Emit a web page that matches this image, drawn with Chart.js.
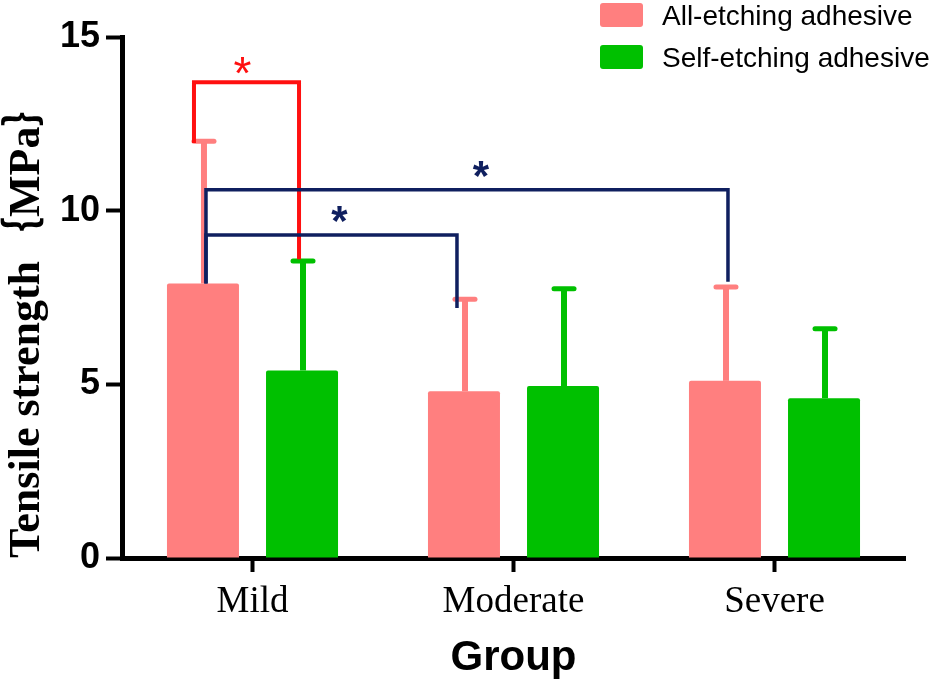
<!DOCTYPE html>
<html>
<head>
<meta charset="utf-8">
<script src="https://cdn.jsdelivr.net/npm/chart.js@4.4.1/dist/chart.umd.min.js"></script>
<style>
html, body { margin: 0; padding: 0; background: #fff; }
#wrap { width: 944px; height: 684px; }
</style>
</head>
<body>
<div id="wrap"><canvas id="canvas_tensile" width="944" height="684"></canvas></div>
<script>
var groups = ["Mild", "Moderate", "Severe"];
var series_names = ["All-etching adhesive", "Self-etching adhesive"];
var all_etching_mean = [7.9, 4.8, 5.1];
var all_etching_sd = [4.1, 2.65, 2.7];
var self_etching_mean = [5.4, 4.95, 4.6];
var self_etching_sd = [3.15, 2.8, 2.0];
var y_ticks = [0, 5, 10, 15];

// significance brackets: [group index, series index] -> [group index, series index]
var sig_from = [[0, 0], [0, 0], [0, 0]];
var sig_to = [[0, 1], [1, 0], [2, 0]];
var sig_level = [13.7, 9.3, 10.6];
var sig_leg_end = [[11.95, 8.6], [7.9, 7.2], [7.9, 7.95]];
var sig_label = ["*", "*", "*"];

var pink = "#ff7f7f";
var green = "#00c000";
var sig_colors = ["#ff1010", "#0f1f5f", "#0f1f5f"];
var sig_shift = [[-9, -3], [3, -7], [3, 3]];
var star_shift = [-4, 8, 14];

var errorBarPlugin = {
    id: "errorBars",
    afterDatasetsDraw: function(chart) {
        var ctx = chart.ctx;
        var y = chart.scales.y;
        chart.data.datasets.forEach(function(ds, i) {
            var meta = chart.getDatasetMeta(i);
            meta.data.forEach(function(bar, j) {
                var top = y.getPixelForValue(ds.data[j] + ds.sd[j]);
                ctx.save();
                ctx.strokeStyle = ds.backgroundColor;
                ctx.lineWidth = 6;
                ctx.beginPath();
                ctx.moveTo(bar.x + 1, bar.y);
                ctx.lineTo(bar.x + 1, top);
                ctx.stroke();
                ctx.lineWidth = 5;
                ctx.lineCap = "round";
                ctx.beginPath();
                ctx.moveTo(bar.x - 9, top);
                ctx.lineTo(bar.x + 11, top);
                ctx.stroke();
                ctx.restore();
            });
        });
    }
};

var sigPlugin = {
    id: "sigBrackets",
    afterDatasetsDraw: function(chart) {
        var ctx = chart.ctx;
        var y = chart.scales.y;
        for (var k = 0; k < sig_level.length; k++) {
            var a = chart.getDatasetMeta(sig_from[k][1]).data[sig_from[k][0]];
            var b = chart.getDatasetMeta(sig_to[k][1]).data[sig_to[k][0]];
            var x1 = a.x + sig_shift[k][0];
            var x2 = b.x + sig_shift[k][1];
            var yl = y.getPixelForValue(sig_level[k]);
            ctx.save();
            ctx.strokeStyle = sig_colors[k];
            ctx.lineWidth = k == 0 ? 4 : 3.5;
            ctx.beginPath();
            ctx.moveTo(x1, y.getPixelForValue(sig_leg_end[k][0]));
            ctx.lineTo(x1, yl);
            ctx.lineTo(x2, yl);
            ctx.lineTo(x2, y.getPixelForValue(sig_leg_end[k][1]));
            ctx.stroke();
            ctx.fillStyle = sig_colors[k];
            ctx.font = (k == 0 ? "46px" : "bold 42px") + " 'Liberation Sans', Arial";
            ctx.textAlign = "center";
            ctx.textBaseline = "alphabetic";
            ctx.fillText(sig_label[k], (x1 + x2) / 2 + star_shift[k], yl + (k == 0 ? 7 : 0));
            ctx.restore();
        }
    }
};

var legendPlugin = {
    id: "cornerLegend",
    afterDraw: function(chart) {
        var ctx = chart.ctx;
        ctx.save();
        chart.data.datasets.forEach(function(ds, i) {
            var top = 3 + i * 42;
            ctx.fillStyle = ds.backgroundColor;
            ctx.beginPath();
            ctx.roundRect(600, top, 43, 24, 3);
            ctx.fill();
            ctx.fillStyle = "#000";
            ctx.font = "28px 'Liberation Sans', Arial";
            ctx.textAlign = "left";
            ctx.textBaseline = "alphabetic";
            ctx.fillText(ds.label, 662, top + 22);
        });
        ctx.restore();
    }
};

var ctx = document.getElementById("canvas_tensile").getContext("2d");
var chart = new Chart(ctx, {
    type: "bar",
    data: {
        labels: groups,
        datasets: [
            {
                label: series_names[0],
                data: all_etching_mean,
                sd: all_etching_sd,
                backgroundColor: pink,
                borderRadius: 2,
                borderSkipped: "bottom"
            },
            {
                label: series_names[1],
                data: self_etching_mean,
                sd: self_etching_sd,
                backgroundColor: green,
                borderRadius: 2,
                borderSkipped: "bottom"
            }
        ]
    },
    options: {
        responsive: false,
        animation: false,
        categoryPercentage: 0.759,
        barPercentage: 0.727,
        layout: { padding: { top: 37, right: 39, left: 0, bottom: 0 } },
        plugins: {
            legend: { display: false },
            tooltip: { enabled: false }
        },
        scales: {
            x: {
                afterFit: function(scale) { scale.height = 126; },
                grid: {
                    offset: false,
                    drawOnChartArea: false,
                    drawTicks: true,
                    tickLength: 14,
                    tickWidth: 4,
                    tickColor: "#000"
                },
                border: { display: true, color: "#000", width: 5 },
                ticks: {
                    color: "#000",
                    padding: 8,
                    maxRotation: 0,
                    font: { family: "'Liberation Serif', 'Times New Roman', serif", size: 37 }
                },
                title: {
                    display: true,
                    text: "Group",
                    color: "#000",
                    padding: { top: 0, bottom: 0 },
                    font: { family: "'Liberation Sans', Arial", size: 42, weight: "bold" }
                }
            },
            y: {
                min: 0,
                max: 15,
                afterFit: function(scale) { scale.width = 122; },
                afterBuildTicks: function(axis) {
                    axis.ticks = y_ticks.map(function(v) { return { value: v }; });
                },
                grid: {
                    drawOnChartArea: false,
                    drawTicks: true,
                    tickLength: 16,
                    tickWidth: 4,
                    tickColor: "#000"
                },
                border: { display: true, color: "#000", width: 5 },
                ticks: {
                    color: "#000",
                    padding: 6,
                    font: { family: "'Liberation Sans', Arial", size: 36, weight: "bold" }
                },
                title: {
                    display: true,
                    text: "Tensile strength｛MPa｝",
                    align: "start",
                    color: "#000",
                    padding: { top: 1, bottom: 0 },
                    font: { family: "'Liberation Serif', 'Noto Sans CJK SC', serif", size: 44, weight: "bold" }
                }
            }
        }
    },
    plugins: [errorBarPlugin, sigPlugin, legendPlugin]
});
</script>
</body>
</html>
